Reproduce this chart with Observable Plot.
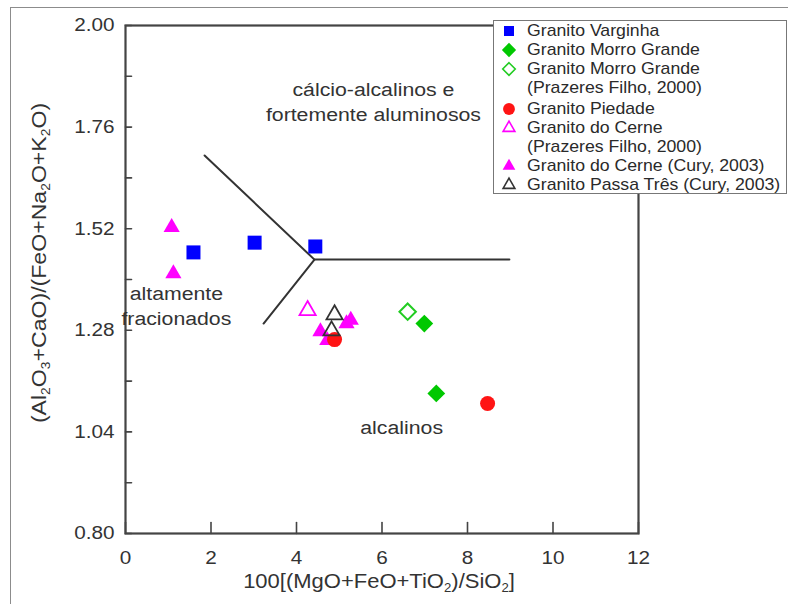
<!DOCTYPE html>
<html><head><meta charset="utf-8">
<script src="https://cdn.jsdelivr.net/npm/d3@7"></script>
<script src="https://cdn.jsdelivr.net/npm/@observablehq/plot@0.6"></script>
<style>
body{margin:0;background:#fff;font-family:"Liberation Sans",Arial,sans-serif;}
#wrap{position:relative;width:788px;height:604px;overflow:hidden;background:#fff;}
#border{position:absolute;left:10px;top:7px;width:900px;height:700px;border-left:1.5px solid #8c8c8c;border-top:1.5px solid #8c8c8c;}
#chart{position:absolute;left:0;top:0;}
#legend{position:absolute;left:493px;top:20px;width:294px;height:174px;border:1.5px solid #777;background:#fff;box-sizing:border-box;z-index:2;padding-top:0px;}
.item{position:relative;line-height:19px;font-size:17px;color:#2a2a2a;}
.item .sym{position:absolute;left:6px;top:1px;}
.item .lab{display:block;margin-left:33px;white-space:nowrap;transform:scaleX(1.04);transform-origin:0 50%;}
</style>
</head><body>
<div id="wrap"><div id="border"></div><div id="chart"></div><div id="legend"></div></div>
<script>
// ---------- data ----------
const xTicks = [0, 2, 4, 6, 8, 10, 12];
const yTicks = [0.80, 1.04, 1.28, 1.52, 1.76, 2.00];
const yTickMarks = [0.80, 0.92, 1.04, 1.16, 1.28, 1.40, 1.52, 1.64, 1.76, 1.88, 2.00];

const varginhaX = [1.59, 3.02, 4.44];
const varginhaY = [1.464, 1.487, 1.478];
const morroX = [6.99, 7.27];
const morroY = [1.296, 1.131];
const morroPFX = [6.60];
const morroPFY = [1.324];
const piedadeX = [4.89, 8.47];
const piedadeY = [1.258, 1.107];
const cernePFX = [4.26];
const cernePFY = [1.327];
const cerneCuryX = [1.08, 1.12, 4.56, 4.72, 5.17, 5.27];
const cerneCuryY = [1.523, 1.414, 1.277, 1.256, 1.296, 1.304];
const passaX = [4.89, 4.82];
const passaY = [1.317, 1.279];

// field boundaries
const boundaryAX = [1.85, 4.42, 3.23];
const boundaryAY = [1.693, 1.447, 1.296];
const boundaryBX = [4.42, 8.98];
const boundaryBY = [1.447, 1.447];

const fieldLabels = ["cálcio-alcalinos e\nfortemente aluminosos", "altamente\nfracionados", "alcalinos"];
const fieldX = [5.8, 1.19, 6.46];
const fieldY = [1.823, 1.341, 1.053];

const legendLabels = [
  ["Granito Varginha"],
  ["Granito Morro Grande"],
  ["Granito Morro Grande", "(Prazeres Filho, 2000)"],
  ["Granito Piedade"],
  ["Granito do Cerne", "(Prazeres Filho, 2000)"],
  ["Granito do Cerne (Cury, 2003)"],
  ["Granito Passa Três (Cury, 2003)"]
];

// ---------- helpers ----------
const pts = (xs, ys) => xs.map((x, i) => ({x, y: ys[i]}));
const tickShape = {draw(context, l) { context.moveTo(0, 0); context.lineTo(0, -l); }};
const ink = "#333";

const chart = Plot.plot({
  width: 788, height: 604,
  marginLeft: 125, marginRight: 150, marginTop: 25, marginBottom: 71,
  x: {domain: [0, 12]},
  y: {domain: [0.8, 2.0]},
  style: {fontFamily: "'Liberation Sans', Arial, sans-serif", color: ink, background: "transparent", overflow: "visible"},
  marks: [
    Plot.axisX(xTicks, {tickSize: 0, tickPadding: 17, fontSize: 18.5, label: null, tickFormat: d => String(d)}),
    Plot.axisY(yTicks, {tickSize: 0, tickPadding: 11, fontSize: 18.5, label: null, tickFormat: d3.format(".2f")}),
    Plot.vector(yTickMarks, {x: 0, y: d => d, length: 6, rotate: 90, anchor: "start", shape: tickShape, stroke: "#444", strokeWidth: 1.6}),
    Plot.vector(xTicks, {x: d => d, y: 0.8, length: 11, rotate: 0, anchor: "start", shape: tickShape, stroke: "#444", strokeWidth: 1.6}),
    Plot.frame({stroke: "#444", strokeWidth: 2.2}),
    Plot.line(pts(boundaryAX, boundaryAY), {x: "x", y: "y", stroke: "#333", strokeWidth: 2}),
    Plot.line(pts(boundaryBX, boundaryBY), {x: "x", y: "y", stroke: "#333", strokeWidth: 2}),
    Plot.text(fieldLabels, {x: (d, i) => fieldX[i], y: (d, i) => fieldY[i], text: d => d, fontSize: 19, lineHeight: 1.32, fill: "#333", textAnchor: "middle", lineAnchor: "middle"}),
    Plot.dot(pts(cerneCuryX, cerneCuryY), {x: "x", y: "y", symbol: "triangle", r: 6, fill: "#ff00ff"}),
    Plot.dot(pts(cernePFX, cernePFY), {x: "x", y: "y", symbol: "triangle", r: 6, fill: "none", stroke: "#ff00ff", strokeWidth: 1.8}),
    Plot.dot(pts(piedadeX, piedadeY), {x: "x", y: "y", symbol: "circle", r: 7.5, fill: "#ff1414"}),
    Plot.dot(pts(passaX, passaY), {x: "x", y: "y", symbol: "triangle", r: 6, fill: "none", stroke: "#333", strokeWidth: 1.8}),
    Plot.dot(pts(varginhaX, varginhaY), {x: "x", y: "y", symbol: "square", r: 7.9, fill: "#0000ff"}),
    Plot.dot(pts(morroX, morroY), {x: "x", y: "y", symbol: "diamond2", r: 8, fill: "#00c800"}),
    Plot.dot(pts(morroPFX, morroPFY), {x: "x", y: "y", symbol: "diamond2", r: 7.4, fill: "none", stroke: "#22cc22", strokeWidth: 2})
  ]
});

const svg = d3.select(chart);
// widen the Arial-like lettering as in the reference
svg.selectAll("text").each(function() {
  const t = this.getAttribute("transform");
  if (t) this.setAttribute("transform", t + " scale(1.12,1)");
});

// axis titles with subscripts
function subText(parent, parts, fs) {
  const t = parent.append("text").attr("font-size", fs).attr("fill", ink)
    .attr("font-family", "'Liberation Sans', Arial, sans-serif").attr("text-anchor", "middle");
  let lowered = false;
  parts.forEach(([s, sub]) => {
    if (sub) { t.append("tspan").attr("font-size", fs * 0.6).attr("dy", lowered ? 0 : 4).text(s); lowered = true; }
    else { t.append("tspan").attr("dy", lowered ? -4 : 0).text(s); lowered = false; }
  });
  return t;
}
const xTitle = [["100[(MgO+FeO+TiO"], ["2", true], [")/SiO"], ["2", true], ["]"]];
const yTitle = [["(Al"], ["2", true], ["O"], ["3", true], ["+CaO)/(FeO+Na"], ["2", true], ["O+K"], ["2", true], ["O)"]];
subText(svg, xTitle, 20).attr("transform", "translate(379,588) scale(1.1,1)");
subText(svg, yTitle, 21).attr("transform", "translate(46,263) rotate(-90) scale(1.1,1)");

document.getElementById("chart").appendChild(chart);

// ---------- legend ----------
const legendSymbols = [
  {type: d3.symbolSquare, size: 100, fill: "#0000ff", stroke: "none"},
  {type: d3.symbolDiamond2, size: 130, fill: "#00c800", stroke: "none"},
  {type: d3.symbolDiamond2, size: 100, fill: "none", stroke: "#22cc22"},
  {type: d3.symbolCircle, size: 110, fill: "#ff1414", stroke: "none"},
  {type: d3.symbolTriangle, size: 60, fill: "none", stroke: "#ff00ff"},
  {type: d3.symbolTriangle, size: 70, fill: "#ff00ff", stroke: "none"},
  {type: d3.symbolTriangle, size: 60, fill: "none", stroke: "#333"}
];
const legend = d3.select("#legend");
legendLabels.forEach((lines, i) => {
  const s = legendSymbols[i];
  const item = legend.append("div").attr("class", "item").style("margin-top", i === 3 ? "2px" : "0px");
  const sv = item.append("svg").attr("class", "sym").attr("width", 18).attr("height", 18);
  sv.append("path").attr("transform", "translate(9,9)")
    .attr("d", d3.symbol().type(s.type).size(s.size)())
    .attr("fill", s.fill).attr("stroke", s.stroke).attr("stroke-width", 1.6);
  lines.forEach(l => item.append("span").attr("class", "lab").text(l));
});
</script>
</body></html>
